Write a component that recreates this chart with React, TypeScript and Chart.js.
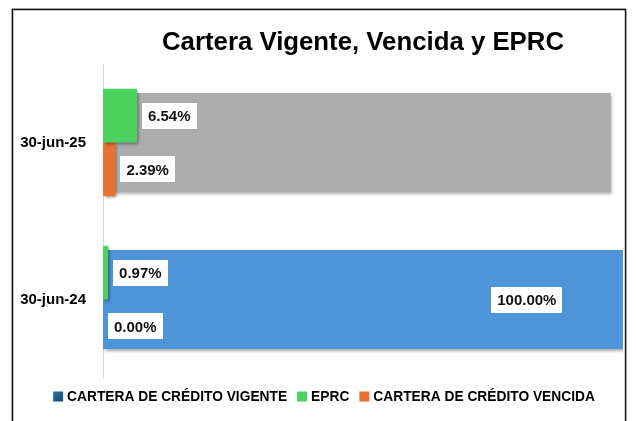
import React, { useEffect, useRef } from 'react';
import { Chart, registerables } from 'chart.js';

Chart.register(...registerables);

// ---- data ----
const categories = ['30-jun-25', '30-jun-24'];
const vigente = [97.61, 100.0];
const eprc = [6.54, 0.97];
const vencida = [2.39, 0.0];
const vigenteLabelShown = [false, true];
const seriesNames = ['CARTERA DE CRÉDITO VIGENTE', 'EPRC', 'CARTERA DE CRÉDITO VENCIDA'];
const chartTitle = 'Cartera Vigente, Vencida y EPRC';

// ---- styles ----
const FONT = "'Liberation Sans', Arial, sans-serif";
const vigenteColors = ['#ADADAD', '#4E94D8'];
const eprcColor = '#4CD35E';
const vencidaColor = '#E97132';
const legendColors = ['#1F5F88', eprcColor, vencidaColor];

const fmt = (v: number) => v.toFixed(2) + '%';

function drawLabel(ctx: CanvasRenderingContext2D, text: string, left: number, cy: number) {
  ctx.font = `bold 15px ${FONT}`;
  const tw = ctx.measureText(text).width;
  const w = tw + 12;
  const h = 26;
  ctx.fillStyle = '#FFFFFF';
  ctx.fillRect(Math.round(left), Math.round(cy - h / 2), Math.round(w), h);
  ctx.fillStyle = '#111111';
  ctx.textAlign = 'left';
  ctx.textBaseline = 'alphabetic';
  ctx.fillText(text, left + 6, cy + 5.4);
}

const decorPlugin = {
  id: 'decor',
  beforeDraw(chart: any) {
    const ctx: CanvasRenderingContext2D = chart.ctx;
    ctx.save();
    ctx.fillStyle = '#FFFFFF';
    ctx.fillRect(0, 0, chart.width, chart.height);
    ctx.strokeStyle = '#BDBDBD';
    ctx.lineWidth = 1;
    ctx.strokeRect(13.5, 10.5, 613, 440);
    ctx.strokeStyle = '#1A1A1A';
    ctx.lineWidth = 1.4;
    ctx.strokeRect(12.3, 9.3, 613.2, 440);
    ctx.restore();
  },
  beforeDatasetsDraw(chart: any) {
    const ctx: CanvasRenderingContext2D = chart.ctx;
    ctx.save();
    ctx.shadowColor = 'rgba(0,0,0,0.35)';
    ctx.shadowBlur = 3;
    ctx.shadowOffsetX = 1.5;
    ctx.shadowOffsetY = 2;
  },
  afterDatasetsDraw(chart: any) {
    const ctx: CanvasRenderingContext2D = chart.ctx;
    ctx.restore();
    ctx.save();
    // labels for EPRC and Vencida (outside end)
    [1, 2].forEach((di) => {
      const meta = chart.getDatasetMeta(di);
      const data = chart.data.datasets[di].data as number[];
      meta.data.forEach((el: any, i: number) => {
        drawLabel(ctx, fmt(data[i]), el.x + 5, el.y);
      });
    });
    // labels for Vigente
    const vm = chart.getDatasetMeta(0);
    vm.data.forEach((el: any, i: number) => {
      if (!vigenteLabelShown[i]) return;
      const text = fmt(vigente[i]);
      ctx.font = `bold 15px ${FONT}`;
      const w = ctx.measureText(text).width + 12;
      const cx = el.base + (el.x - el.base) * 0.815;
      drawLabel(ctx, text, cx - w / 2, el.y);
    });
    ctx.restore();
  },
  afterDraw(chart: any) {
    const ctx: CanvasRenderingContext2D = chart.ctx;
    const area = chart.chartArea;
    ctx.save();
    // title
    ctx.font = `bold 25px ${FONT}`;
    const mw = ctx.measureText(chartTitle).width;
    const sx = 402 / mw;
    ctx.translate((area.left + area.right) / 2, 50);
    ctx.scale(sx, 1);
    ctx.fillStyle = '#000000';
    ctx.textAlign = 'center';
    ctx.textBaseline = 'alphabetic';
    ctx.fillText(chartTitle, 0, 0);
    ctx.restore();

    // legend
    ctx.save();
    ctx.font = `bold 14px ${FONT}`;
    const lsx = 220 / ctx.measureText(seriesNames[0]).width;
    const widths = seriesNames.map((s) => ctx.measureText(s).width * lsx);
    const box = 10;
    const gapBT = 4;
    const gapItem = 10;
    const total = widths.reduce((a, w) => a + box + gapBT + w, 0) + gapItem * (seriesNames.length - 1);
    let x = 324 - total / 2;
    const baseY = 401;
    seriesNames.forEach((name, i) => {
      if (i === 0) {
        const g = ctx.createLinearGradient(x, baseY - 10, x + box, baseY);
        g.addColorStop(0, '#2A78A8');
        g.addColorStop(1, '#154B6E');
        ctx.fillStyle = g;
      } else {
        ctx.fillStyle = legendColors[i];
      }
      ctx.fillRect(x, baseY - 9.5, box, box);
      x += box + gapBT;
      ctx.save();
      ctx.translate(x, baseY);
      ctx.scale(lsx, 1);
      ctx.fillStyle = '#000000';
      ctx.textAlign = 'left';
      ctx.textBaseline = 'alphabetic';
      ctx.fillText(name, 0, 0);
      ctx.restore();
      x += widths[i] + gapItem;
    });
    ctx.restore();
  },
};

export default function App() {
  const ref = useRef<HTMLCanvasElement>(null);

  useEffect(() => {
    document.body.style.margin = '0';
    const canvas = ref.current;
    if (!canvas) return;
    const chart = new Chart(canvas, {
      type: 'bar',
      data: {
        labels: categories,
        datasets: [
          {
            label: seriesNames[0],
            data: vigente,
            backgroundColor: vigenteColors,
            borderWidth: 0,
            grouped: false,
            categoryPercentage: 1,
            barPercentage: 0.63,
            order: 3,
          } as any,
          {
            label: seriesNames[1],
            data: eprc,
            backgroundColor: eprcColor,
            borderWidth: 0,
            categoryPercentage: 0.684,
            barPercentage: 1,
            order: 1,
          },
          {
            label: seriesNames[2],
            data: vencida,
            backgroundColor: vencidaColor,
            borderWidth: 0,
            categoryPercentage: 0.684,
            barPercentage: 1,
            order: 2,
          },
        ],
      },
      options: {
        indexAxis: 'y',
        animation: false,
        responsive: false,
        devicePixelRatio: 1,
        layout: { padding: { left: 0, right: 13, top: 64, bottom: 43 } },
        scales: {
          x: { display: false, min: 0, max: 100 },
          y: {
            afterFit: (s: any) => {
              s.width = 103;
            },
            grid: { display: false, drawTicks: false },
            border: { display: true, color: '#D9D9D9', width: 1 },
            ticks: {
              padding: 17,
              color: '#000000',
              font: { family: FONT, size: 15, weight: 'bold' },
            },
          },
        },
        plugins: {
          legend: { display: false },
          title: { display: false },
          tooltip: { enabled: false },
        },
      },
      plugins: [decorPlugin],
    });
    return () => chart.destroy();
  }, []);

  return (
    <div style={{ position: 'fixed', left: 0, top: 0, width: 636, height: 421, background: '#FFFFFF' }}>
      <canvas ref={ref} width={636} height={421} style={{ display: 'block', width: 636, height: 421 }} />
    </div>
  );
}
